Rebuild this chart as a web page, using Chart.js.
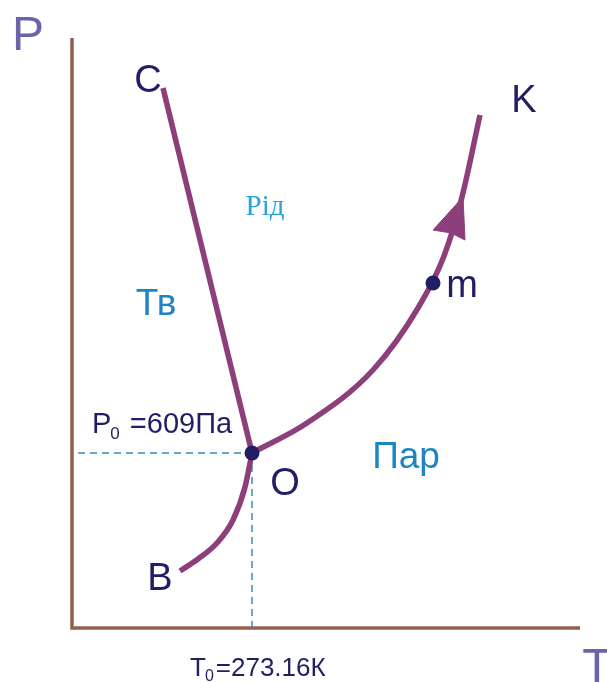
<!DOCTYPE html>
<html>
<head>
<meta charset="utf-8">
<script src="https://cdn.jsdelivr.net/npm/chart.js@4"></script>
<style>
  html, body { margin: 0; padding: 0; background: #fff; }
  canvas { display: block; }
</style>
</head>
<body>
<canvas id="diagram" width="607" height="682"></canvas>
<script>
// phase diagram of water (arbitrary units)
const meltT = [91, 180];
const meltP = [540, 175];
const sublimT = [180, 173, 161, 145, 126, 108];
const sublimP = [175, 141, 108, 85, 69, 57];
const vaporT = [180, 235, 301, 346, 372, 390, 408];
const vaporP = [175, 205, 258, 320, 372, 431, 513];
const arrowT = [391, 361, 379, 393, 391];
const arrowP = [431, 398, 395, 388, 431];
const pointT = [180, 361];
const pointP = [175, 345];
const axisMaxT = 508;
const axisMaxP = 590;

const letterText = ["C", "K", "B", "O", "m"];
const letterT = [76, 452, 88, 213, 390];
const letterP = [536, 516, 38, 133, 331];
const phaseText = ["Тв", "Пар", "Рід"];
const phaseT = [84, 334, 193];
const phaseP = [313, 160, 413];

const purple = "#8c3f7b";
const navy = "#211e63";
const dashBlue = "#3a8cb8";

function zip(xs, ys) {
  return xs.map((x, i) => ({ x: x, y: ys[i] }));
}

const labelsPlugin = {
  id: "labels",
  afterDatasetsDraw(chart) {
    const ctx = chart.ctx;
    const sx = chart.scales.x;
    const sy = chart.scales.y;
    const px = (v) => sx.getPixelForValue(v);
    const py = (v) => sy.getPixelForValue(v);
    ctx.save();
    ctx.textBaseline = "alphabetic";

    // curve letters
    ctx.fillStyle = navy;
    ctx.font = '38px "Liberation Sans", Arial, sans-serif';
    ctx.textAlign = "center";
    letterText.forEach((t, i) => ctx.fillText(t, px(letterT[i]), py(letterP[i])));

    // phase regions
    ctx.fillStyle = "#1f84c2";
    ctx.font = '37px "Liberation Sans", Arial, sans-serif';
    ctx.fillText(phaseText[0], px(phaseT[0]), py(phaseP[0]));
    ctx.fillText(phaseText[1], px(phaseT[1]), py(phaseP[1]));
    ctx.fillStyle = "#28a3dc";
    ctx.font = '29px "Liberation Serif", "Times New Roman", serif';
    ctx.fillText(phaseText[2], px(phaseT[2]), py(phaseP[2]));

    // axis letters
    ctx.fillStyle = "#6a64a8";
    ctx.font = '48px "Liberation Sans", Arial, sans-serif';
    ctx.fillText("P", px(-44), py(578));
    ctx.fillText("T", px(525), py(-54));

    // subscripted values
    ctx.fillStyle = navy;
    ctx.textAlign = "left";
    function subLabel(main, sub, rest, x, y, size) {
      ctx.font = size + 'px "Liberation Sans", Arial, sans-serif';
      ctx.fillText(main, x, y);
      let w = ctx.measureText(main).width;
      ctx.font = Math.round(size * 0.6) + 'px "Liberation Sans", Arial, sans-serif';
      ctx.fillText(sub, x + w - 1, y + size * 0.2);
      w += ctx.measureText(sub).width + 1;
      ctx.font = size + 'px "Liberation Sans", Arial, sans-serif';
      ctx.fillText(rest, x + w, y);
    }
    subLabel("P", "0", " =609Па", px(20), py(195), 29);
    subLabel("T", "0", "=273.16К", px(118), py(-48), 26);
    ctx.restore();
  }
};

new Chart(document.getElementById("diagram"), {
  type: "scatter",
  data: {
    datasets: [
      {
        data: zip(pointT, pointP),
        pointRadius: 7.5,
        pointBackgroundColor: navy,
        pointBorderWidth: 0,
        showLine: false,
        order: 0
      },
      {
        data: zip(meltT, meltP),
        showLine: true,
        borderColor: purple,
        borderWidth: 5.5,
        pointRadius: 0,
        order: 1
      },
      {
        data: zip(sublimT, sublimP),
        showLine: true,
        borderColor: purple,
        borderWidth: 5.5,
        pointRadius: 0,
        cubicInterpolationMode: "monotone",
        order: 1
      },
      {
        data: zip(vaporT, vaporP),
        showLine: true,
        borderColor: purple,
        borderWidth: 5.5,
        pointRadius: 0,
        cubicInterpolationMode: "monotone",
        order: 1
      },
      {
        data: zip(arrowT, arrowP),
        showLine: true,
        borderColor: purple,
        backgroundColor: purple,
        borderWidth: 1,
        fill: "shape",
        pointRadius: 0,
        order: 1
      },
      {
        data: [{ x: 6, y: pointP[0] }, { x: pointT[0], y: pointP[0] }],
        showLine: true,
        borderColor: dashBlue,
        borderWidth: 1.5,
        borderDash: [7, 5],
        pointRadius: 0,
        order: 2
      },
      {
        data: [{ x: pointT[0], y: pointP[0] }, { x: pointT[0], y: 0 }],
        showLine: true,
        borderColor: dashBlue,
        borderWidth: 1.5,
        borderDash: [7, 5],
        pointRadius: 0,
        order: 2
      },
      {
        data: [{ x: 0, y: axisMaxP }, { x: 0, y: 0 }, { x: axisMaxT, y: 0 }],
        showLine: true,
        borderColor: "#93604c",
        borderWidth: 3.5,
        pointRadius: 0,
        order: 3
      }
    ]
  },
  options: {
    responsive: false,
    animation: false,
    clip: false,
    layout: { padding: { left: 72, right: 27, top: 38, bottom: 54 } },
    plugins: { legend: { display: false }, tooltip: { enabled: false } },
    scales: {
      x: { type: "linear", display: false, min: 0, max: axisMaxT },
      y: { type: "linear", display: false, min: 0, max: axisMaxP }
    }
  },
  plugins: [labelsPlugin]
});
</script>
</body>
</html>
